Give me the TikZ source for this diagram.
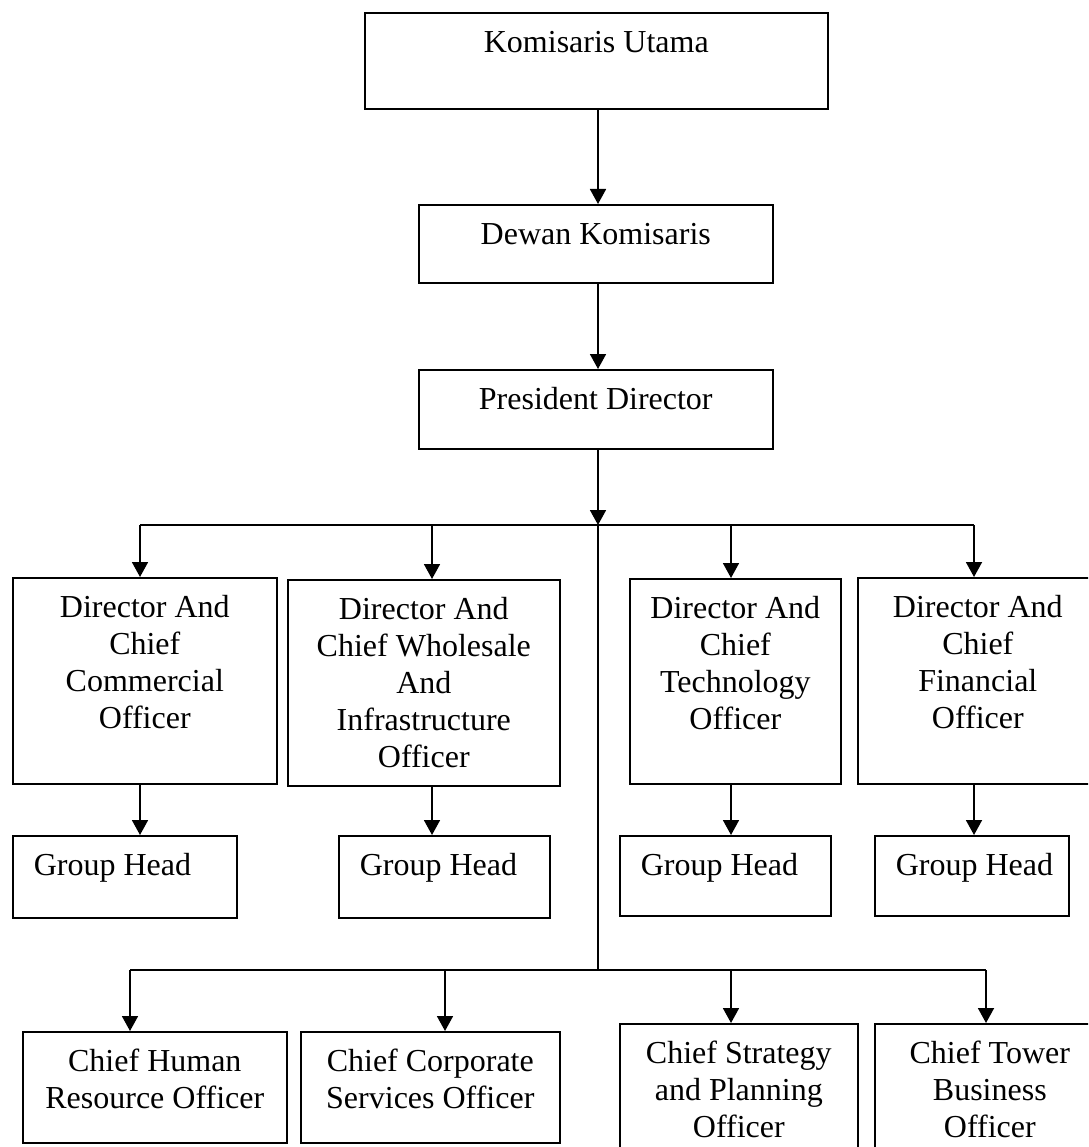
\documentclass[tikz,border=0pt]{standalone}
\usepackage{fontspec}
\setmainfont{Liberation Serif}
\usetikzlibrary{arrows.meta}

\begin{document}
\begin{tikzpicture}[x=1pt, y=-1pt,
    orgbox/.style={draw, line width=1.6pt, inner sep=0pt, anchor=north west, align=flush center, text height=40pt, font=\fontsize{32}{37}\selectfont},
    ghbox/.style={orgbox, align=flush left},
    arr/.style={line width=1.8pt, -{Triangle[length=15pt,width=16pt]}},
    ln/.style={line width=1.8pt}]

        \useasboundingbox (0,0) rectangle (1088,1147);
        \clip (0,0) rectangle (1088,1147);

        % Posizioni dei box
        \node[orgbox, text width=463pt, text depth=56pt] (ku) at (364,12) {Komisaris Utama};
        \node[orgbox, text width=354pt, text depth=38pt] (dk) at (418,204) {Dewan Komisaris};
        \node[orgbox, text width=354pt, text depth=39pt] (pd) at (418,369) {President Director};

        \node[orgbox, text width=264pt, text depth=166pt] (d1) at (12,577) {Director And\\Chief\\Commercial\\Officer};
        \node[orgbox, text width=272pt, text depth=166pt] (d2) at (287,579) {Director And\\Chief Wholesale\\And\\Infrastructure\\Officer};
        \node[orgbox, text width=211pt, text depth=165pt] (d3) at (629,578) {Director And\\Chief\\Technology\\Officer};
        \node[orgbox, text width=240pt, text depth=166pt] (d4) at (857,577) {Director And\\Chief\\Financial\\Officer};

        \node[ghbox, text width=224pt, text depth=42pt] (g1) at (12,835) {\hspace*{21pt}Group Head};
        \node[ghbox, text width=211pt, text depth=42pt] (g2) at (338,835) {\hspace*{21pt}Group Head};
        \node[ghbox, text width=211pt, text depth=40pt] (g3) at (619,835) {\hspace*{21pt}Group Head};
        \node[ghbox, text width=194pt, text depth=40pt] (g4) at (874,835) {\hspace*{21pt}Group Head};

        \node[orgbox, text width=264pt, text depth=71pt] (c1) at (22,1031) {Chief Human\\Resource Officer};
        \node[orgbox, text width=259pt, text depth=71pt] (c2) at (300,1031) {Chief Corporate\\Services Officer};
        \node[orgbox, text width=238pt, text depth=100pt] (c3) at (619,1023) {Chief Strategy\\and Planning\\Officer};
        \node[orgbox, text width=230pt, text depth=100pt] (c4) at (874,1023) {Chief Tower\\Business\\Officer};

        % Punti di diramazione
        \coordinate (t0) at (598,525);
        \coordinate (t1) at (140,525);
        \coordinate (t2) at (432,525);
        \coordinate (t3) at (731,525);
        \coordinate (t4) at (974,525);
        \coordinate (b0) at (598,970);
        \coordinate (b1) at (130,970);
        \coordinate (b2) at (445,970);
        \coordinate (b3) at (731,970);
        \coordinate (b4) at (986,970);

        % Archi
        \draw[arr] (ku.south -| t0) -- (dk.north -| t0);
        \draw[arr] (dk.south -| t0) -- (pd.north -| t0);
        \draw[arr] (pd.south -| t0) -- (t0);
        \draw[ln] (t0) -- (b0);
        \draw[ln] (t1) -- (t4);
        \draw[ln] (b1) -- (b4);
        \foreach \i in {1,...,4} {
            \draw[arr] (t\i) -- (t\i |- d\i.north);
            \draw[arr] (t\i |- d\i.south) -- (t\i |- g\i.north);
            \draw[arr] (b\i) -- (b\i |- c\i.north);
        }
    \end{tikzpicture}
\end{document}
